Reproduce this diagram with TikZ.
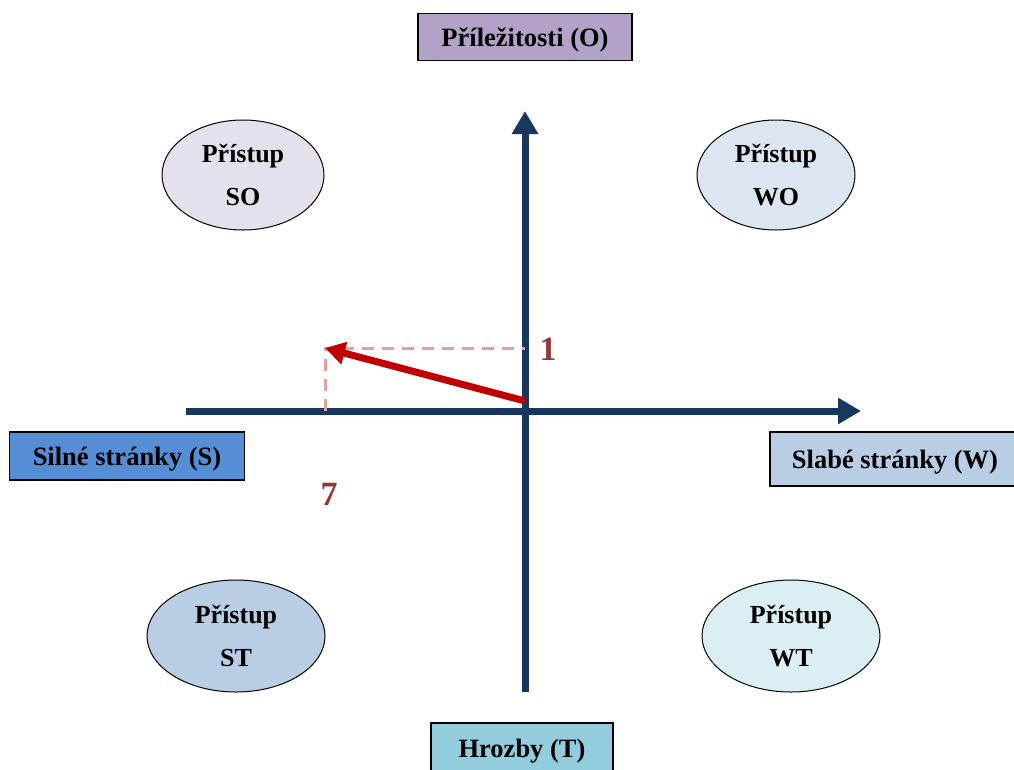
\documentclass[tikz,border=0pt]{standalone}
\usepackage{fontspec}
\setmainfont{Liberation Serif}
\usetikzlibrary{arrows.meta,shapes.geometric}
\definecolor{axis}{HTML}{17375E}
\definecolor{redarrow}{HTML}{C00000}
\definecolor{dashc}{HTML}{E2A0A0}
\definecolor{numc}{HTML}{953735}
\definecolor{oFill}{HTML}{B3A2C7}
\definecolor{sFill}{HTML}{558ED5}
\definecolor{wFill}{HTML}{B9CDE5}
\definecolor{tFill}{HTML}{93CDDD}
\definecolor{soFill}{HTML}{E6E0EC}
\definecolor{woFill}{HTML}{DCE6F2}
\definecolor{stFill}{HTML}{B9CDE5}
\definecolor{wtFill}{HTML}{DBEEF4}
\tikzset{
  labelbox/.style={draw=black, line width=1.5pt, inner sep=0pt, text depth=0pt, font=\fontsize{26.5}{28}\selectfont\bfseries},
  approach/.style={draw=black, line width=1pt, ellipse, inner sep=0pt, align=center, font=\fontsize{26}{43}\selectfont\bfseries},
  axisline/.style={axis, line width=7pt, -{Triangle[length=23pt,width=25pt]}},
  num/.style={numc, font=\fontsize{34}{36}\selectfont\bfseries}
}
\begin{document}
\begin{tikzpicture}[x=1pt,y=-1pt]
\useasboundingbox (0,0) rectangle (1014,769);
% axes
\coordinate (vbot) at (525,692);
\coordinate (vtop) at (525,111);
\coordinate (hleft) at (186,411);
\coordinate (hright) at (861,411);
\draw[axisline] (vbot) -- (vtop);
\draw[axisline] (hleft) -- (hright);
% dashed projection
\coordinate (p0) at (325,411);
\coordinate (p1) at (325,348);
\coordinate (p2) at (525,348);
\draw[dashc, line width=3pt, dash pattern=on 12pt off 8pt] (p0) -- (p1) -- (p2);
% red arrow
\coordinate (r0) at (525,401);
\draw[redarrow, line width=7pt, -{Triangle[length=20pt,width=22pt]}] (r0) -- (p1);
% numbers
\node[num] (n1) at (548,349) {1};
\node[num] (n7) at (329,494) {7};
% label boxes
\node[labelbox, fill=oFill, minimum width=214pt, minimum height=47pt] (O) at (525,37) {Příležitosti (O)};
\node[labelbox, fill=sFill, minimum width=235pt, minimum height=48pt] (S) at (127,456) {Silné stránky (S)};
\node[labelbox, fill=wFill, minimum width=250pt, minimum height=54pt] (W) at (895,459) {Slabé stránky (W)};
\node[labelbox, fill=tFill, minimum width=182pt, minimum height=50pt] (T) at (522,748) {Hrozby (T)};
% ellipses
\node[approach, fill=soFill, minimum width=162pt, minimum height=110pt] (SO) at (243,175) {Přístup\\SO};
\node[approach, fill=woFill, minimum width=158pt, minimum height=110pt] (WO) at (776,175) {Přístup\\WO};
\node[approach, fill=stFill, minimum width=178pt, minimum height=112pt] (ST) at (236,636) {Přístup\\ST};
\node[approach, fill=wtFill, minimum width=178pt, minimum height=112pt] (WT) at (791,636) {Přístup\\WT};
\end{tikzpicture}
\end{document}
